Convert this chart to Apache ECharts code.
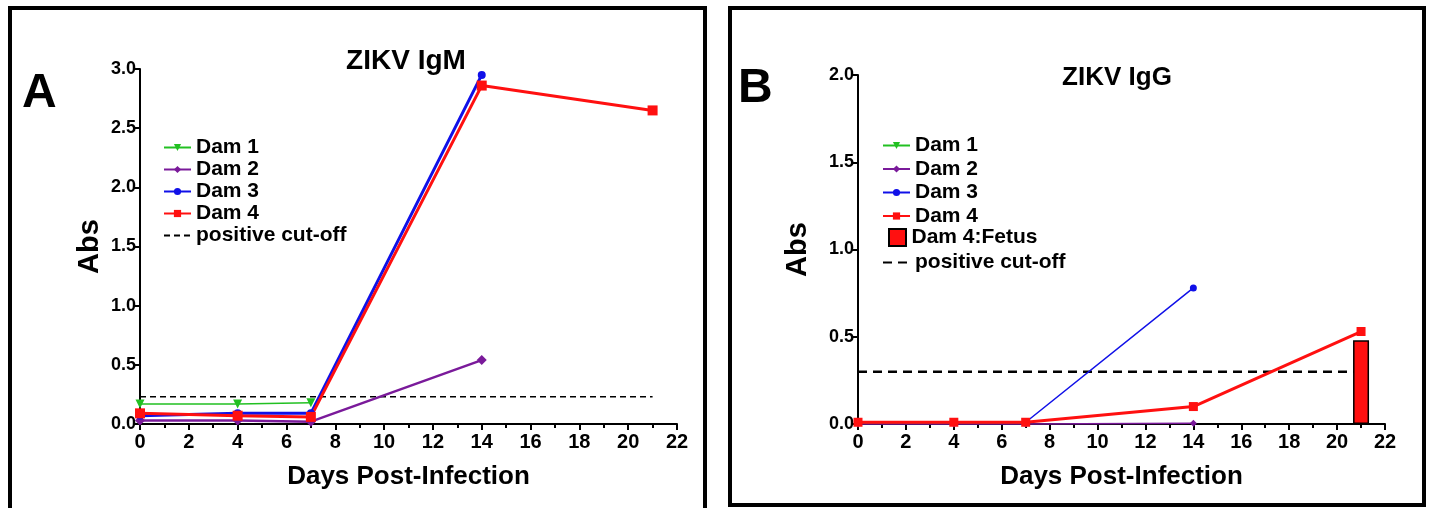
<!DOCTYPE html>
<html>
<head>
<meta charset="utf-8">
<script src="https://cdn.jsdelivr.net/npm/echarts@6/dist/echarts.min.js"></script>
<style>
html,body{margin:0;padding:0;background:#fff;}
#chart{width:1430px;height:508px;}
</style>
</head>
<body>
<div id="chart"></div>
<script>
// ---------- Data ----------
var xTicksLabel = [0, 2, 4, 6, 8, 10, 12, 14, 16, 18, 20, 22];

// Panel A: ZIKV IgM  [day, Abs]
var igmDam1 = [[0, 0.17], [4, 0.17], [7, 0.18]];
var igmDam2 = [[0, 0.03], [4, 0.03], [7, 0.02], [14, 0.54]];
var igmDam3 = [[0, 0.07], [4, 0.09], [7, 0.09], [14, 2.95]];
var igmDam4 = [[0, 0.09], [4, 0.07], [7, 0.06], [14, 2.86], [21, 2.65]];
var igmCutoff = [[0, 0.23], [21, 0.23]];

// Panel B: ZIKV IgG  [day, Abs]
var iggDam1 = [[0, 0.005], [4, 0.005], [7, 0.005]];
var iggDam2 = [[0, 0.0], [4, 0.0], [7, 0.0], [14, 0.005]];
var iggDam3 = [[0, 0.01], [4, 0.01], [7, 0.01], [14, 0.78]];
var iggDam4 = [[0, 0.01], [4, 0.01], [7, 0.01], [14, 0.10], [21, 0.53]];
var iggFetus = [[21, 0.48]];
var iggCutoff = [[0, 0.30], [21, 0.30]];

// ---------- Styles ----------
var FONT = '"Liberation Sans", Arial, sans-serif';
var GREEN = '#22c022', PURPLE = '#7a1a9a', BLUE = '#1010e8', RED = '#ff1010';

function xAxis(gi) {
  return {
    gridIndex: gi, type: 'value', min: 0, max: 22, interval: 2,
    name: 'Days Post-Infection', nameLocation: 'middle', nameGap: 40,
    nameTextStyle: {fontFamily: FONT, fontWeight: 'bold', fontSize: 26, color: '#000'},
    axisLine: {show: true, onZero: false, lineStyle: {color: '#000', width: 2}},
    axisTick: {show: true, inside: false, length: 6, lineStyle: {color: '#000', width: 2}},
    minorTick: {show: true, splitNumber: 2, length: 4, lineStyle: {color: '#000', width: 2}},
    splitLine: {show: false},
    axisLabel: {fontFamily: FONT, fontWeight: 'bold', fontSize: 20, color: '#000', margin: 8}
  };
}
function yAxis(gi, max, gap) {
  return {
    gridIndex: gi, type: 'value', min: 0, max: max, interval: 0.5,
    name: 'Abs', nameLocation: 'middle', nameGap: gap, nameRotate: 90,
    nameTextStyle: {fontFamily: FONT, fontWeight: 'bold', fontSize: 29, color: '#000'},
    axisLine: {show: true, lineStyle: {color: '#000', width: 2}},
    axisTick: {show: true, length: 6, lineStyle: {color: '#000', width: 2}},
    splitLine: {show: false},
    axisLabel: {fontFamily: FONT, fontWeight: 'bold', fontSize: 18, color: '#000', margin: 4,
      formatter: function (v) { return v.toFixed(1); }}
  };
}
function lineSeries(name, gi, data, color, width, symbol, size) {
  return {
    name: name, type: 'line', xAxisIndex: gi, yAxisIndex: gi, data: data,
    symbol: symbol, symbolSize: size, clip: false,
    lineStyle: {color: color, width: width}, itemStyle: {color: color},
    emphasis: {disabled: true}, animation: false
  };
}
function cutoffSeries(name, gi, data, dash) {
  return {
    name: name, type: 'line', xAxisIndex: gi, yAxisIndex: gi, data: data,
    symbol: 'none', clip: false, z: 1,
    lineStyle: {color: '#000', width: dash ? 2.5 : 1.5, type: dash ? [9, 6] : [6, 4]},
    itemStyle: {color: '#000'}, emphasis: {disabled: true}, animation: false
  };
}
function legend(left, top, names, gap, ih, iw) {
  return {
    orient: 'vertical', left: left, top: top, padding: 0, itemWidth: iw || 27, itemHeight: ih || 9, itemGap: gap,
    selectedMode: false, data: names,
    textStyle: {fontFamily: FONT, fontWeight: 'bold', fontSize: 21, color: '#000', lineHeight: 20},
    formatter: function (n) { return n.split('|')[1]; }
  };
}
var noSym = {color: 'rgba(0,0,0,0)', borderWidth: 0, opacity: 0};

var option = {
  backgroundColor: '#fff',
  animation: false,
  grid: [
    {left: 140, top: 69, width: 537, height: 355},
    {left: 858, top: 75, width: 527, height: 349}
  ],
  xAxis: [xAxis(0), xAxis(1)],
  yAxis: [yAxis(0, 3.0, 36), yAxis(1, 2.0, 46)],
  legend: [
    legend(163, 137, ['A|Dam 1', 'A|Dam 2', 'A|Dam 3', 'A|Dam 4',
      {name: 'A|positive cut-off', itemStyle: noSym}], 1),
    legend(882, 135, ['B|Dam 1', 'B|Dam 2', 'B|Dam 3', 'B|Dam 4'], 2.5),
    legend(888, 227, [{name: 'B|Dam 4:Fetus', icon: 'path://M0,0L10,0L10,10L0,10Z'}], 0, 17, 18),
    legend(882, 252, [{name: 'B|positive cut-off', itemStyle: noSym}], 0)
  ],
  title: [
    {text: 'ZIKV IgM', left: 401, top: 42, textAlign: 'center',
      textStyle: {fontFamily: FONT, fontWeight: 'bold', fontSize: 28, color: '#000'}},
    {text: 'ZIKV IgG', left: 1112, top: 60, textAlign: 'center',
      textStyle: {fontFamily: FONT, fontWeight: 'bold', fontSize: 26, color: '#000'}}
  ],
  graphic: [
    {type: 'rect', shape: {x: 10, y: 8, width: 695, height: 520}, style: {fill: 'none', stroke: '#000', lineWidth: 4}, z: 100},
    {type: 'rect', shape: {x: 730, y: 8, width: 694, height: 497}, style: {fill: 'none', stroke: '#000', lineWidth: 4}, z: 100},
    {type: 'text', x: 22, y: 94, style: {text: 'A', fontFamily: FONT, fontWeight: 'bold', fontSize: 48, fill: '#000', textVerticalAlign: 'middle'}},
    {type: 'text', x: 738, y: 89, style: {text: 'B', fontFamily: FONT, fontWeight: 'bold', fontSize: 48, fill: '#000', textVerticalAlign: 'middle'}}
  ],
  series: [
    cutoffSeries('A|positive cut-off', 0, igmCutoff, false),
    lineSeries('A|Dam 1', 0, igmDam1, GREEN, 1.5, 'triangle', 9),
    lineSeries('A|Dam 2', 0, igmDam2, PURPLE, 2.5, 'diamond', 10),
    lineSeries('A|Dam 3', 0, igmDam3, BLUE, 3, 'circle', 8),
    lineSeries('A|Dam 4', 0, igmDam4, RED, 3, 'rect', 10),

    cutoffSeries('B|positive cut-off', 1, iggCutoff, true),
    lineSeries('B|Dam 1', 1, iggDam1, GREEN, 1.5, 'triangle', 8),
    lineSeries('B|Dam 2', 1, iggDam2, PURPLE, 1.5, 'diamond', 7),
    lineSeries('B|Dam 3', 1, iggDam3, BLUE, 1.5, 'circle', 7),
    lineSeries('B|Dam 4', 1, iggDam4, RED, 3, 'rect', 9),
    {
      name: 'B|Dam 4:Fetus', type: 'bar', xAxisIndex: 1, yAxisIndex: 1, data: iggFetus,
      barWidth: 16, z: 3,
      itemStyle: {color: RED, borderColor: '#000', borderWidth: 1.5},
      emphasis: {disabled: true}, animation: false
    }
  ]
};
// Dam 1 uses a downward-pointing triangle
option.series.forEach(function (s) { if (s.symbol === 'triangle') s.symbolRotate = 180; });

var chart = echarts.init(document.getElementById('chart'), null, {renderer: 'canvas'});
chart.setOption(option);
</script>
</body>
</html>
